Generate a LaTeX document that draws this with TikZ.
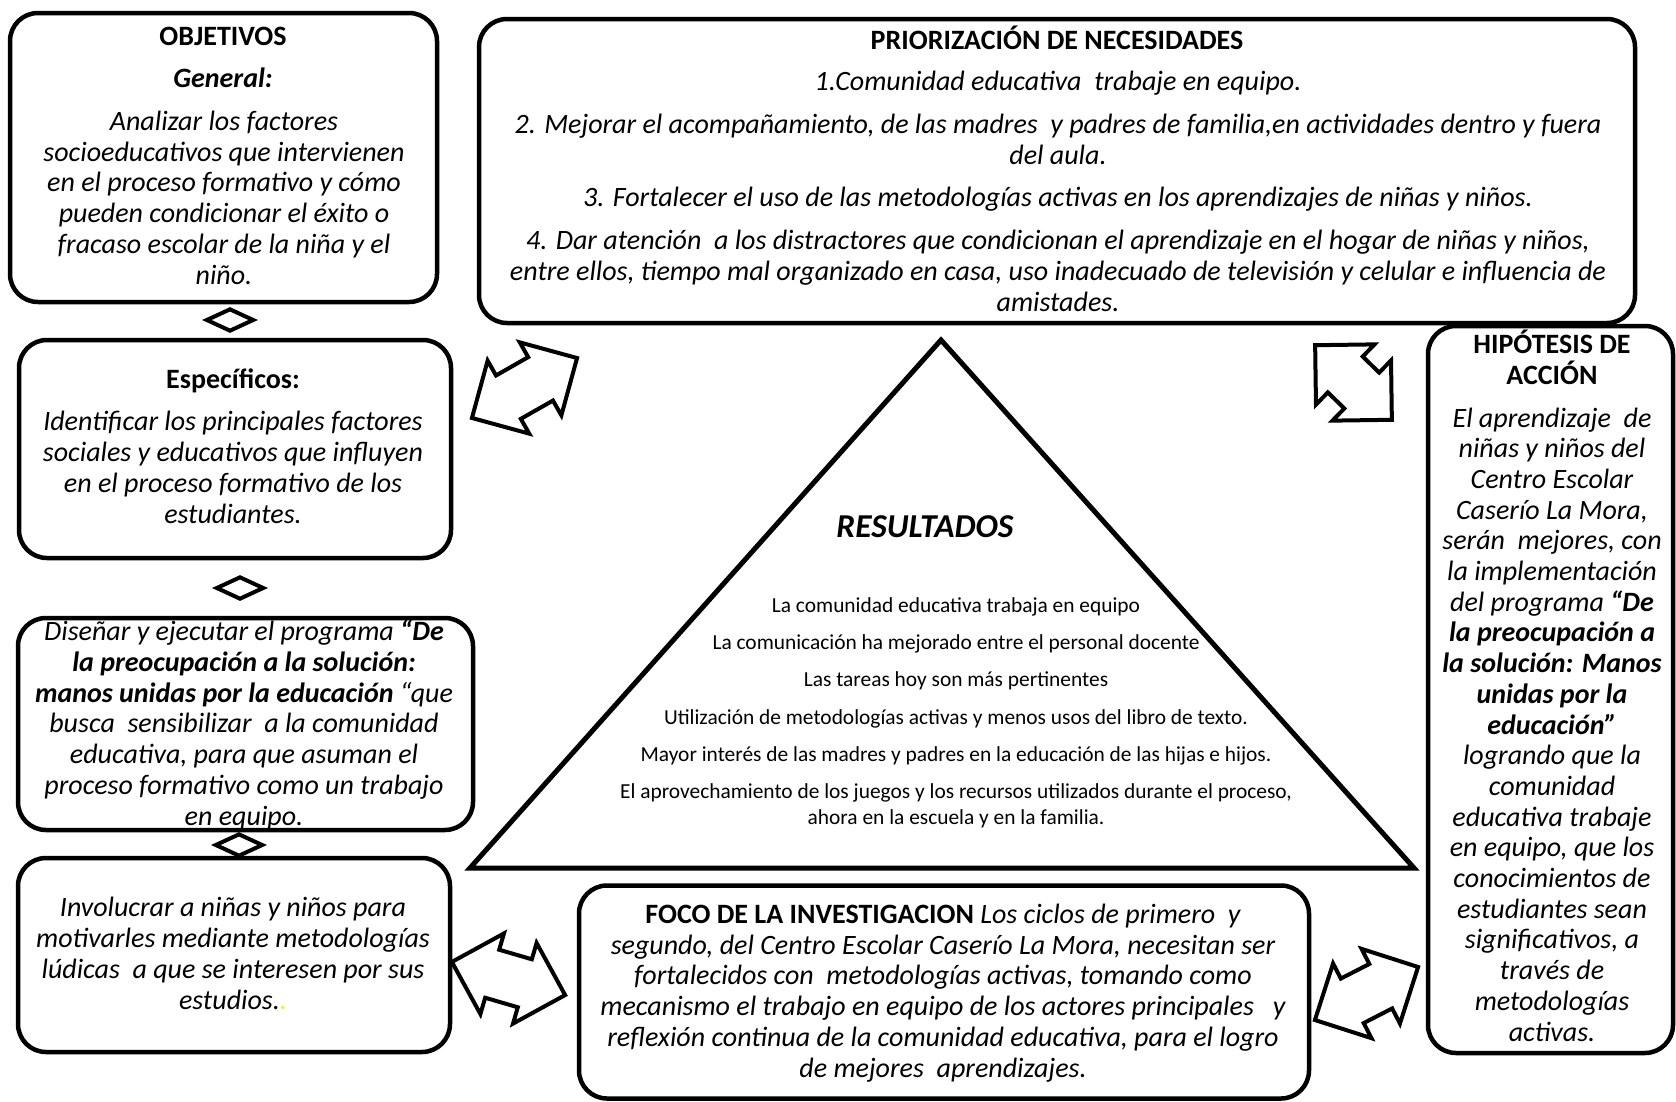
\documentclass[tikz,border=0pt]{standalone}
\usepackage{fontspec}
\setmainfont{Carlito}
\usetikzlibrary{shapes.geometric}
\newcommand\bodyfont{\fontsize{28}{30.7}\selectfont}
\newcommand\trifont{\fontsize{21.4}{25.5}\selectfont}
\newcommand\resfont{\fontsize{33.4}{38}\selectfont}
\newcommand\dblarrow[4]{%
  \begin{scope}[shift={(#1,#2)}, rotate=#3]
    \draw[arr] (-#4,0) -- (-#4+42,42) -- (-#4+42,25) -- (#4-42,25) -- (#4-42,42)
      -- (#4,0) -- (#4-42,-42) -- (#4-42,-25) -- (-#4+42,-25) -- (-#4+42,-42) -- cycle;
  \end{scope}}
\begin{document}
\begin{tikzpicture}[x=1pt,y=-1pt,
  box/.style={draw, line width=4.5pt, rounded corners=28pt, inner sep=0pt},
  body/.style={align=center, inner sep=0pt, anchor=base, font=\bodyfont\itshape},
  head/.style={align=center, inner sep=0pt, anchor=base, font=\bodyfont\bfseries},
  tritext/.style={align=center, inner sep=0pt, anchor=base, font=\trifont},
  arr/.style={draw, fill=white, line width=4pt, line join=miter},
  link/.style={diamond, draw, fill=white, line width=4pt, minimum width=48pt, minimum height=23pt, inner sep=0pt},
  tri/.style={draw, line width=5pt, line join=miter}]
\fill[white] (0,0) rectangle (1676,1101);
\useasboundingbox (0,0) rectangle (1676,1101);

% boxes
\node[box, minimum width=427pt, minimum height=289pt] (obj) at (223.5,157.5) {};
\node[box, minimum width=432pt, minimum height=218pt] (esp) at (235,449) {};
\node[box, minimum width=455pt, minimum height=212pt] (dis) at (245.5,724) {};
\node[box, minimum width=432pt, minimum height=194pt] (inv) at (234,955) {};
\node[box, minimum width=1156pt, minimum height=304pt] (pri) at (1057,171) {};
\node[box, minimum width=245pt, minimum height=727pt] (hip) at (1550.5,689.5) {};
\node[box, minimum width=730pt, minimum height=213pt] (foco) at (944,992) {};

% triangle
\coordinate (apex) at (941,340);
\coordinate (bl) at (470,868);
\coordinate (br) at (1414,868);
\draw[tri] (apex) -- (bl) -- (br) -- cycle;

% double arrows
\dblarrow{524.5}{388}{29.7}{60.5}
\dblarrow{1353.5}{382.5}{-44.2}{53.5}
\dblarrow{508.5}{978.5}{-16.3}{59}
\dblarrow{1366.5}{993.5}{27.2}{58}

% small diamonds
\node[link] (d1) at (230,320) {};
\node[link] (d2) at (240,588) {};
\node[link] (d3) at (239,845) {};

% texts (base anchor = baseline of the last line)
\node[head] (objt) at (223,45) {OBJETIVOS};
\node[head, font=\bodyfont\bfseries\itshape] (objg) at (223,87) {General:};
\node[body] (objb) at (224,284) {Analizar los factores\\socioeducativos que intervienen\\en el proceso formativo y cómo\\pueden condicionar el éxito o\\fracaso escolar de la niña y el\\niño.};

\node[head] (espt) at (233,388) {Específicos:};
\node[body] (espb) at (233,523) {Identificar los principales factores\\sociales y educativos que influyen\\en el proceso formativo de los\\estudiantes.};

\node[body] (disb) at (244,825) {Diseñar y ejecutar el programa \textbf{“De}\\\textbf{la preocupación a la solución:}\\\textbf{manos unidas por la educación} “que\\busca~ sensibilizar~ a la comunidad\\educativa, para que asuman el\\proceso formativo como un trabajo\\en equipo.};

\node[body] (invb) at (233,1009) {Involucrar a niñas y niños para\\motivarles mediante metodologías\\lúdicas~ a que se interesen por sus\\estudios.{\color{yellow}.}};

\node[head] (prit) at (1057,49) {PRIORIZACIÓN DE NECESIDADES};
\node[body] (prib) at (1058,311) {1.Comunidad educativa~ trabaje en equipo.\\[12pt]2. Mejorar el acompañamiento, de las madres~ y padres de familia,en actividades dentro y fuera\\del aula.\\[12pt]3. Fortalecer el uso de las metodologías activas en los aprendizajes de niñas y niños.\\[12pt]4. Dar atención~ a los distractores que condicionan el aprendizaje en el hogar de niñas y niños,\\entre ellos, tiempo mal organizado en casa, uso inadecuado de televisión y celular e influencia de\\amistades.};

\node[head] (hipt) at (1552,384) {HIPÓTESIS DE\\ACCIÓN};
\node[body] (hipb) at (1552,1041) {El aprendizaje~ de\\niñas y niños del\\Centro Escolar\\Caserío La Mora,\\serán~ mejores, con\\la implementación\\del programa \textbf{“De}\\\textbf{la preocupación a}\\\textbf{la solución: Manos}\\\textbf{unidas por la}\\\textbf{educación”}\\logrando que la\\comunidad\\educativa trabaje\\en equipo, que los\\conocimientos de\\estudiantes sean\\significativos, a\\través de\\metodologías\\activas.};

\node[body] (focob) at (943,1077) {{\upshape\bfseries FOCO DE LA INVESTIGACION} Los ciclos de primero~ y\\segundo, del Centro Escolar Caserío La Mora, necesitan ser\\fortalecidos con~ metodologías activas, tomando como\\mecanismo el trabajo en equipo de los actores principales~~ y\\reflexión continua de la comunidad educativa, para el logro\\de mejores~ aprendizajes.};

\node[anchor=base, inner sep=0pt, font=\resfont\bfseries\itshape] (res) at (925,537) {RESULTADOS};
\node[tritext] (resb) at (956,824) {La comunidad educativa trabaja en equipo\\[11.7pt]La comunicación ha mejorado entre el personal docente\\[11.7pt]Las tareas hoy son más pertinentes\\[11.7pt]Utilización de metodologías activas y menos usos del libro de texto.\\[11.7pt]Mayor interés de las madres y padres en la educación de las hijas e hijos.\\[11.7pt]El aprovechamiento de los juegos y los recursos utilizados durante el proceso,\\ahora en la escuela y en la familia.};
\end{tikzpicture}
\end{document}
